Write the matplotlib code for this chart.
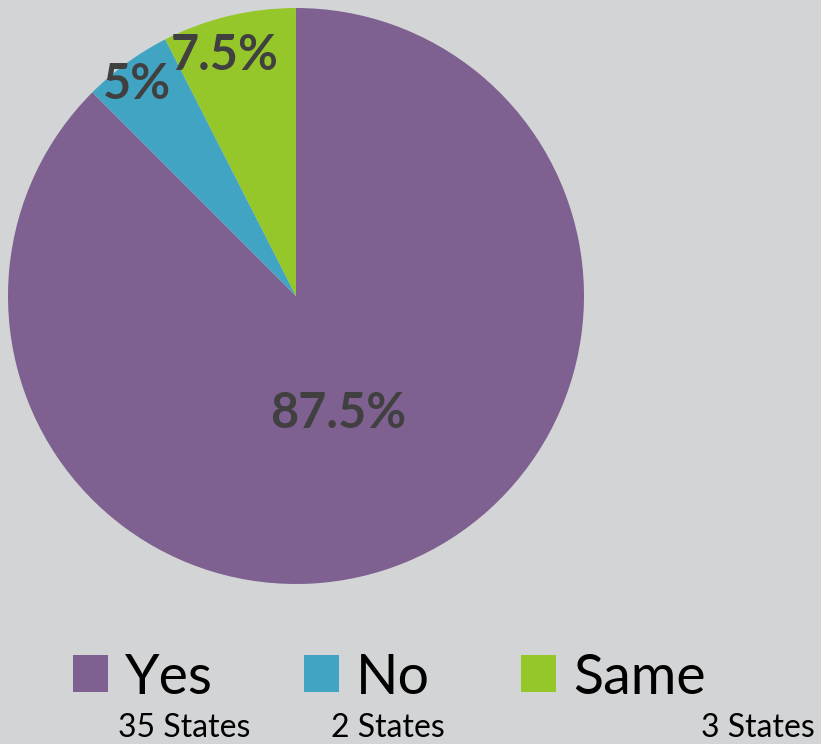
import numpy as np
import matplotlib
matplotlib.use("Agg")
import matplotlib.pyplot as plt

labels = ["Yes", "No", "Same"]
shares = [87.5, 5, 7.5]
pct_text = ["87.5%", "5%", "7.5%"]
state_counts = ["35 States", "2 States", "3 States"]
colors = ["#7E6091", "#41A4C3", "#96C72A"]

bg = "#D3D4D6"
plt.rcParams['font.family'] = ['Lato', 'DejaVu Sans']

W, H = 821, 744
fig = plt.figure(figsize=(W / 100, H / 100), dpi=100, facecolor=bg)

# pie centred at (296, 296) px, radius 288 px
cx, cy, r = 296, 296, 288
ax = fig.add_axes([(cx - r) / W, 1 - (cy + r) / H, 2 * r / W, 2 * r / H])
ax.set_facecolor(bg)
wedges, _ = ax.pie(shares, colors=colors, startangle=90, counterclock=False,
                   radius=1, wedgeprops=dict(linewidth=0))
ax.set_xlim(-1, 1)
ax.set_ylim(-1, 1)
ax.set_aspect('equal')
ax.axis('off')

# percentage labels near wedge mid angles (distance, angle nudge in deg)
dists = [0.435, 0.92, 0.87]
nudge = [-2.7, 1, 3]
for w, txt, d, n in zip(wedges, pct_text, dists, nudge):
    mid = np.deg2rad((w.theta1 + w.theta2) / 2 + n)
    ax.text(d * np.cos(mid), d * np.sin(mid), txt, ha='center', va='center',
            fontsize=35, fontweight='bold', color='#404040')

fs = 40
fs_px = fs * 100 / 72
fig.legend(wedges, labels, loc='center left',
           bbox_to_anchor=(73 / W, 1 - 678 / H), ncol=3, frameon=False,
           fontsize=fs, borderpad=0, borderaxespad=0,
           handlelength=35 / fs_px, handleheight=36 / fs_px,
           handletextpad=17 / fs_px, columnspacing=91 / fs_px)

# state counts under legend
state_x = [184, 388, 758]
for x, s in zip(state_x, state_counts):
    fig.text(x / W, 1 - 728 / H, s, ha='center', va='center',
             fontsize=23, color='black')

fig.savefig("out.png", dpi=100, facecolor=bg)
